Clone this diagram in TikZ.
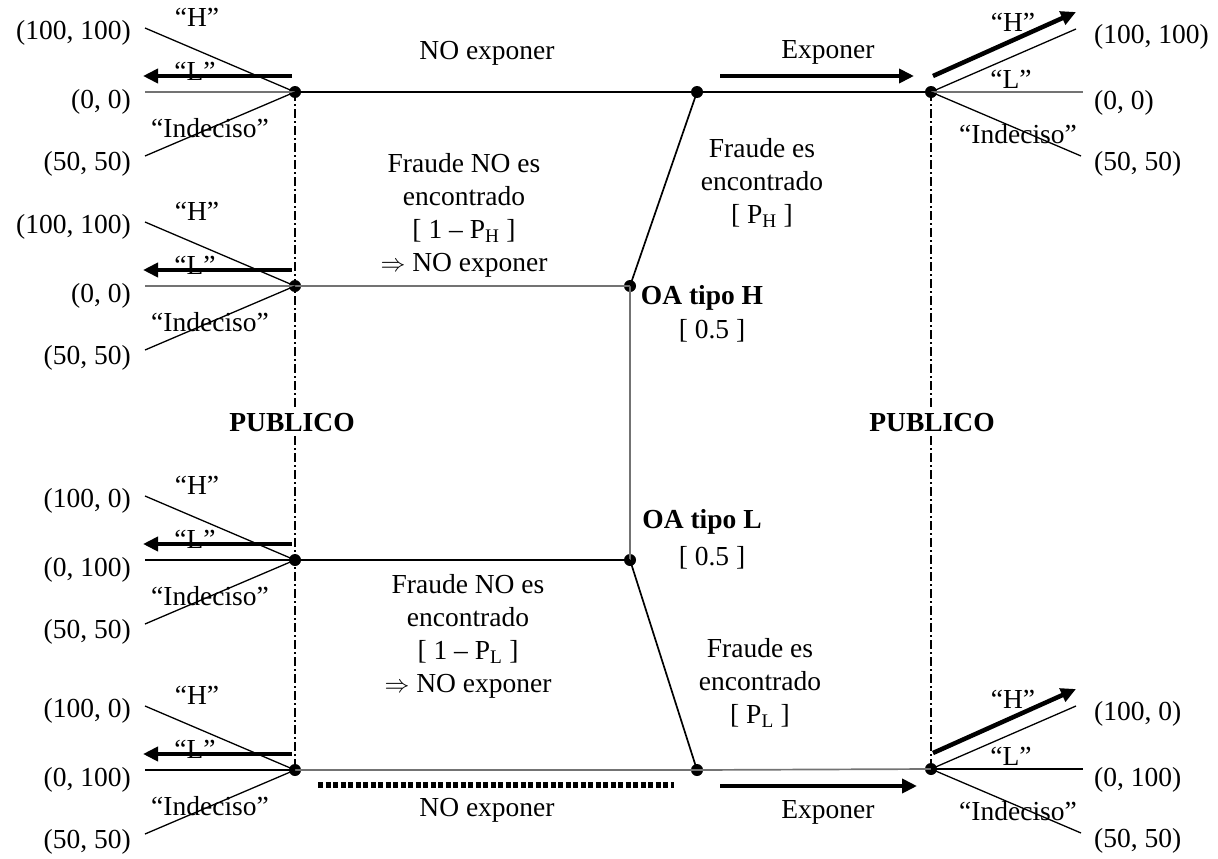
\documentclass[tikz,border=0pt]{standalone}
\usepackage{fontspec}
\setmainfont{Liberation Serif}
\usetikzlibrary{arrows.meta,calc}

% Fan of three choices opening to the left of a decision point.
% #1 node name, #2/#3/#4 payoffs (top, middle, bottom), #5 colour of the middle line
\newcommand{\leftfan}[5]{%
  \coordinate (#1-h) at ($(#1)+(-150,-64)$);
  \coordinate (#1-m) at ($(#1)+(-150,0)$);
  \coordinate (#1-i) at ($(#1)+(-150,64)$);
  \coordinate (#1-as) at ($(#1)+(-3,-16)$);
  \coordinate (#1-ae) at ($(#1)+(-152,-16)$);
  \node[lbl] (#1-qh) at ($(#1)+(-98,-75)$) {“H”};
  \node[lbl] (#1-ql) at ($(#1)+(-100,-21)$) {“L”};
  \node[lbl] (#1-qi) at ($(#1)+(-85,36)$) {“Indeciso”};
  \draw[fan] (#1.center) -- (#1-h);
  \draw[fan,#5] (#1.center) -- (#1-m);
  \draw[fan] (#1.center) -- (#1-i);
  \draw[bigarrow] (#1-as) -- (#1-ae);
  \node[lbl,anchor=east] (#1-ph) at ($(#1)+(-164,-59)$) {#2};
  \node[lbl,anchor=east] (#1-pm) at ($(#1)+(-164,10)$) {#3};
  \node[lbl,anchor=east] (#1-pi) at ($(#1)+(-164,72)$) {#4};
}

% Fan of three choices opening to the right of a decision point.
\newcommand{\rightfan}[5]{%
  \coordinate (#1-h) at ($(#1)+(145,-63)$);
  \coordinate (#1-m) at ($(#1)+(152,0)$);
  \coordinate (#1-i) at ($(#1)+(150,64)$);
  \coordinate (#1-as) at ($(#1)+(2,-16)$);
  \coordinate (#1-ae) at ($(#1)+(145,-80)$);
  \node[lbl] (#1-qh) at ($(#1)+(82,-70)$) {“H”};
  \node[lbl] (#1-ql) at ($(#1)+(80,-13)$) {“L”};
  \node[lbl] (#1-qi) at ($(#1)+(87,42)$) {“Indeciso”};
  \draw[fan] (#1.center) -- (#1-h);
  \draw[fan,#5] (#1.center) -- (#1-m);
  \draw[fan] (#1.center) -- (#1-i);
  \draw[bigarrow] (#1-as) -- (#1-ae);
  \node[lbl,anchor=west] (#1-ph) at ($(#1)+(163,-55)$) {#2};
  \node[lbl,anchor=west] (#1-pm) at ($(#1)+(163,11)$) {#3};
  \node[lbl,anchor=west] (#1-pi) at ($(#1)+(163,72)$) {#4};
}

\begin{document}
\begin{tikzpicture}[x=1pt,y=-1pt,
  lbl/.style={font=\fontsize{27.5}{33}\selectfont, inner sep=0pt, align=center},
  boldlbl/.style={lbl, font=\fontsize{27.5}{33}\selectfont\bfseries},
  dot/.style={circle, fill=black, minimum size=12pt, inner sep=0pt},
  edge/.style={line width=1.7pt},
  greyline/.style={draw=black!55},
  fan/.style={line width=1.3pt},
  bigarrow/.style={line width=4.5pt, -{Triangle[length=15pt,width=14pt]}},
  guide/.style={line width=1.5pt, dash pattern=on 9pt off 3pt on 2pt off 3pt},
  infoset/.style={line width=6pt, dash pattern=on 5pt off 2.5pt}
]
\useasboundingbox (0,0) rectangle (1218,859);

% decision points
\node[dot] (p1) at (295,92) {};
\node[dot] (p2) at (295,286) {};
\node[dot] (p3) at (295,560) {};
\node[dot] (p4) at (295,770) {};
\node[dot] (e1) at (697,92) {};
\node[dot] (e4) at (697,770) {};
\node[dot] (oh) at (630,286) {};
\node[dot] (ol) at (630,560) {};
\node[dot] (r1) at (931,92) {};
\node[dot] (r4) at (931,769) {};

% public's information sets (dash-dot), interrupted by their labels
\node[boldlbl, fill=white, inner sep=4pt] (pubL) at (292,423) {PUBLICO};
\node[boldlbl, fill=white, inner sep=4pt] (pubR) at (932,423) {PUBLICO};
\draw[guide] (p1.center) -- (pubL.north -| p1);
\draw[guide] (pubL.south -| p4) -- (p4.center);
\draw[guide] (r1.center) -- (pubR.north -| r1);
\draw[guide] (pubR.south -| r4) -- (r4.center);

% nature and the auditor's branches
\draw[edge, greyline] (oh.center) -- (ol.center);
\draw[edge] (oh.center) -- (e1.center);
\draw[edge] (ol.center) -- (e4.center);
\draw[edge] (p1.center) -- (e1.center) -- (r1.center);
\draw[edge, greyline] (p2.center) -- (oh.center);
\draw[edge] (p3.center) -- (ol.center);
\draw[edge, greyline] (p4.center) -- (e4.center) -- (r4.center);

% exposure arrows
\coordinate (x1s) at (720,76);
\coordinate (x1e) at (914,76);
\coordinate (x4s) at (720,786);
\coordinate (x4e) at (917,786);
\draw[bigarrow] (x1s) -- (x1e);
\draw[bigarrow] (x4s) -- (x4e);

% dotted information set of the auditor
\coordinate (is1) at (318,785);
\coordinate (is2) at (674,785);
\draw[infoset] (is1) -- (is2);

% branch labels
\node[lbl] (t1) at (487,53) {NO exponer};
\node[lbl] (t2) at (828,52) {Exponer};
\node[lbl] (t3) at (487,810) {NO exponer};
\node[lbl] (t4) at (828,812) {Exponer};
\node[lbl] (fh) at (464,215) {Fraude NO es\\encontrado\\{}[ 1 – P\textsubscript{H} ]\\$\Rightarrow$ NO exponer};
\node[lbl] (fl) at (468,636) {Fraude NO es\\encontrado\\{}[ 1 – P\textsubscript{L} ]\\$\Rightarrow$ NO exponer};
\node[lbl] (gh) at (762,183) {Fraude es\\encontrado\\{}[ P\textsubscript{H} ]};
\node[lbl] (gl) at (760,683) {Fraude es\\encontrado\\{}[ P\textsubscript{L} ]};
\node[boldlbl] (oth) at (702,298) {OA tipo H};
\node[lbl] (pth) at (712,331) {[ 0.5 ]};
\node[boldlbl] (otl) at (702,522) {OA tipo L};
\node[lbl] (ptl) at (712,558) {[ 0.5 ]};

% public's choices
\leftfan{p1}{(100, 100)}{(0, 0)}{(50, 50)}{greyline}
\leftfan{p2}{(100, 100)}{(0, 0)}{(50, 50)}{greyline}
\leftfan{p3}{(100, 0)}{(0, 100)}{(50, 50)}{}
\leftfan{p4}{(100, 0)}{(0, 100)}{(50, 50)}{}
\rightfan{r1}{(100, 100)}{(0, 0)}{(50, 50)}{greyline}
\rightfan{r4}{(100, 0)}{(0, 100)}{(50, 50)}{}
\end{tikzpicture}
\end{document}
